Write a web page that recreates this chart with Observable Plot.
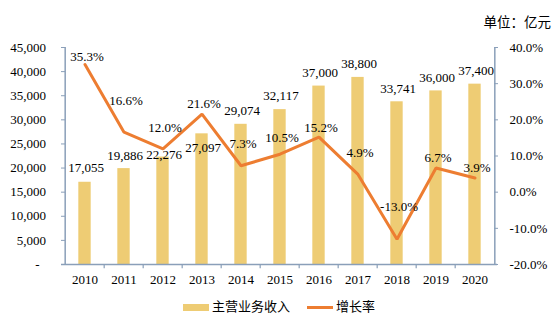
<!DOCTYPE html>
<html>
<head>
<meta charset="utf-8">
<script src="https://cdn.jsdelivr.net/npm/d3@7"></script>
<script src="https://cdn.jsdelivr.net/npm/@observablehq/plot@0.6"></script>
<style>
  html, body { margin: 0; padding: 0; background: #fff; }
  #wrap { position: relative; width: 556px; height: 321px; font-family: "Liberation Serif", "Times New Roman", "Noto Sans CJK SC", serif; color: #000; }
  #unit { position: absolute; right: 5px; top: 14px; font-size: 13.5px; line-height: 18px; font-family: "Liberation Serif", "Noto Sans CJK SC", serif; }
  .leg { position: absolute; font-size: 13px; line-height: 16px; top: 299px; font-family: "Liberation Serif", "Noto Sans CJK SC", serif; }
  .sw { position: absolute; }
</style>
</head>
<body>
<div id="wrap">
  <div id="chart"></div>
  <div id="unit">单位：亿元</div>
  <div class="sw" id="swBar" style="left:183px; top:304px; width:26px; height:7px; background:#EECC74;"></div>
  <div class="leg" id="legBar" style="left:212px;">主营业务收入</div>
  <div class="sw" id="swLine" style="left:307px; top:306px; width:26px; height:3px; background:#ED7D31;"></div>
  <div class="leg" id="legLine" style="left:336px;">增长率</div>
</div>
<script>
// ---- data ----
const years = ["2010","2011","2012","2013","2014","2015","2016","2017","2018","2019","2020"];
const revenue = [17055, 19886, 22276, 27097, 29074, 32117, 37000, 38800, 33741, 36000, 37400];
const growth = [35.3, 16.6, 12.0, 21.6, 7.3, 10.5, 15.2, 4.9, -13.0, 6.7, 3.9];
const leftTicks = [0, 5000, 10000, 15000, 20000, 25000, 30000, 35000, 40000, 45000];
const rightTicks = [-20, -10, 0, 10, 20, 30, 40];

// ---- layout (label nudges, px) ----
const barLabelDy = [-14, -13, -2, 14, -13, -14, -13, -14, -13, -13, -13.5];
const rateLabelDy = [-8, -31, -21, -10, -22, -16, -9, -22, -32, -10, -10];

const table = years.map((y, i) => ({year: y, revenue: revenue[i], growth: growth[i], i}));

const yMax = 45000;
const pMin = -20, pMax = 40;
const toY = p => (p - pMin) / (pMax - pMin) * yMax;
const fromY = v => v / yMax * (pMax - pMin) + pMin;

const W = 556, H = 321, ML = 61, MR = 59, MT = 47, MB = 57;
const step = (W - ML - MR) / years.length;
const axisColor = "#8A9FB9";
const barColor = "#EECC74";
const lineColor = "#ED7D31";
const fmt = d3.format(",");

const marks = [
  Plot.barY(table, {x: "year", y: "revenue", fill: barColor, insetLeft: (step - 13) / 2, insetRight: (step - 13) / 2}),
  Plot.ruleY([0], {stroke: axisColor, strokeWidth: 1.5}),
  Plot.ruleX([years[0]], {dx: -step / 2, stroke: axisColor, strokeWidth: 1.5}),
  Plot.ruleX([years[years.length - 1]], {dx: step / 2, stroke: axisColor, strokeWidth: 1.5}),
  Plot.ruleX(years.slice(1), {dx: -step / 2, y1: 0, y2: -900, stroke: axisColor, strokeWidth: 1.2}),
  Plot.axisX({tickSize: 0, tickPadding: 10, fontSize: 13, label: null}),
  Plot.axisY(leftTicks, {anchor: "left", tickSize: -4, tickPadding: 19.5, stroke: axisColor, fontSize: 13, label: null,
    tickFormat: d => d === 0 ? "-\u00a0\u00a0" : fmt(d)}),
  Plot.axisY(rightTicks.map(toY), {anchor: "right", tickSize: -4, tickPadding: 16, stroke: axisColor, fontSize: 13, label: null,
    tickFormat: d => fromY(d).toFixed(1) + "%"}),
  Plot.line(table, {x: "year", y: d => toY(d.growth), stroke: lineColor, strokeWidth: 3, strokeLinejoin: "miter"})
];
table.forEach((d, i) => {
  marks.push(Plot.text([d], {x: "year", y: "revenue", text: r => fmt(r.revenue), dy: barLabelDy[i], dx: 1, fontSize: 13, fill: "#000"}));
  marks.push(Plot.text([d], {x: "year", y: r => toY(r.growth), text: r => r.growth.toFixed(1) + "%", dy: rateLabelDy[i], dx: 2, fontSize: 13, fill: "#000"}));
});

const chart = Plot.plot({
  width: W, height: H,
  marginLeft: ML, marginRight: MR, marginTop: MT, marginBottom: MB,
  style: {fontFamily: "'Liberation Serif','Times New Roman',serif", fontSize: "13px", color: "#000", background: "transparent", overflow: "visible"},
  x: {type: "band", domain: years, padding: 0, label: null},
  y: {domain: [0, yMax], label: null},
  marks
});
document.getElementById("chart").appendChild(chart);
</script>
</body>
</html>
